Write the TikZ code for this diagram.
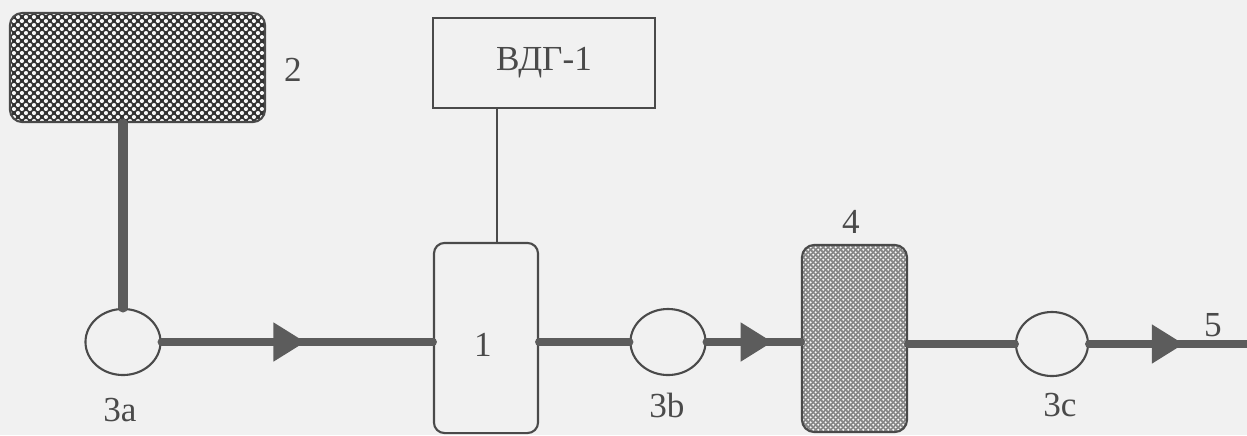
\documentclass[tikz,border=0pt]{standalone}
\usepackage{fontspec}
\setmainfont{Liberation Serif}
\usetikzlibrary{arrows.meta,decorations.markings,patterns,shapes.geometric}
\definecolor{ink}{HTML}{4A4A4A}
\definecolor{paper}{HTML}{F1F1F1}
\pgfdeclarepatternformonly{bigdots}{\pgfpointorigin}{\pgfpoint{2.4pt}{2.4pt}}{\pgfpoint{2.4pt}{2.4pt}}{%
  \pgfpathcircle{\pgfpoint{0.6pt}{0.6pt}}{0.62pt}%
  \pgfpathcircle{\pgfpoint{1.8pt}{1.8pt}}{0.62pt}%
  \pgfusepath{fill}}
\pgfdeclarepatternformonly{finedots}{\pgfpointorigin}{\pgfpoint{1.4pt}{1.4pt}}{\pgfpoint{1.4pt}{1.4pt}}{%
  \pgfpathcircle{\pgfpoint{0.35pt}{0.35pt}}{0.33pt}%
  \pgfpathcircle{\pgfpoint{1.05pt}{1.05pt}}{0.33pt}%
  \pgfusepath{fill}}
\tikzset{
  outline/.style={draw=ink, line width=0.6pt},
  hatchbox/.style={outline, rounded corners=3.5pt, preaction={fill=gray!40!black}, pattern=bigdots, pattern color=white!95!gray, inner sep=0pt},
  dotbox/.style={outline, rounded corners=3.5pt, preaction={fill=gray!95}, pattern=finedots, pattern color=white!95!gray, inner sep=0pt},
  plainbox/.style={outline, inner sep=0pt},
  valve/.style={ellipse, outline, inner sep=0pt, minimum width=0.75cm, minimum height=0.66cm},
  lbl/.style={text=ink, font=\fontsize{10}{12}\selectfont, inner sep=0pt},
  pipe/.style={draw=ink!90, line width=2.3pt, line cap=round},
  flow/.style={pipe, postaction={decorate}, decoration={markings, mark=at position #1 with {\arrow{Triangle[length=0.32cm, width=0.37cm]}}}},
}
\begin{document}
\begin{tikzpicture}[x=0.01cm, y=-0.01cm]
  \fill[paper] (0,0) rectangle (1247,435);
  \useasboundingbox (0,0) rectangle (1247,435);
  % nodes
  \node[hatchbox, minimum width=2.55cm, minimum height=1.09cm] (b2) at (137.5,67.5) {};
  \node[lbl] (l2) at (293,70) {2};
  \node[plainbox, minimum width=2.22cm, minimum height=0.90cm] (vdg) at (544,63) {};
  \node[lbl] (lvdg) at (544,63) {ВДГ-1};
  \node[plainbox, rounded corners=3pt, minimum width=1.04cm, minimum height=1.90cm] (b1) at (486,338) {};
  \node[lbl] (l1) at (483,345) {1};
  \node[dotbox, minimum width=1.05cm, minimum height=1.87cm] (b4) at (854.5,338.5) {};
  \node[lbl] (l4) at (851,222) {4};
  \node[valve] (v3a) at (123,342) {};
  \node[valve] (v3b) at (668,342) {};
  \node[valve, minimum width=0.72cm, minimum height=0.64cm] (v3c) at (1052,344) {};
  \node[lbl] (l3a) at (120,410) {3a};
  \node[lbl] (l3b) at (667,405) {3b};
  \node[lbl] (l3c) at (1060,405) {3c};
  \node[lbl] (l5) at (1213,325) {5};
  \coordinate (out) at (1247,344);
  \coordinate (vx) at (497,0);
  % connectors
  \draw[pipe, line width=2.6pt] (v3a.north |- b2.south) -- (v3a.north);
  \draw[flow=0.53] (v3a.east) -- (b1.west |- v3a.east);
  \draw[pipe] (b1.east |- v3b.west) -- (v3b.west);
  \draw[flow=0.70] (v3b.east) -- (b4.west |- v3b.east);
  \draw[pipe] (b4.east |- v3c.west) -- (v3c.west);
  \draw[flow=0.60] (v3c.east) -- (out);
  \draw[draw=ink, line width=0.6pt] (vdg.south -| vx) -- (b1.north -| vx);
\end{tikzpicture}
\end{document}
